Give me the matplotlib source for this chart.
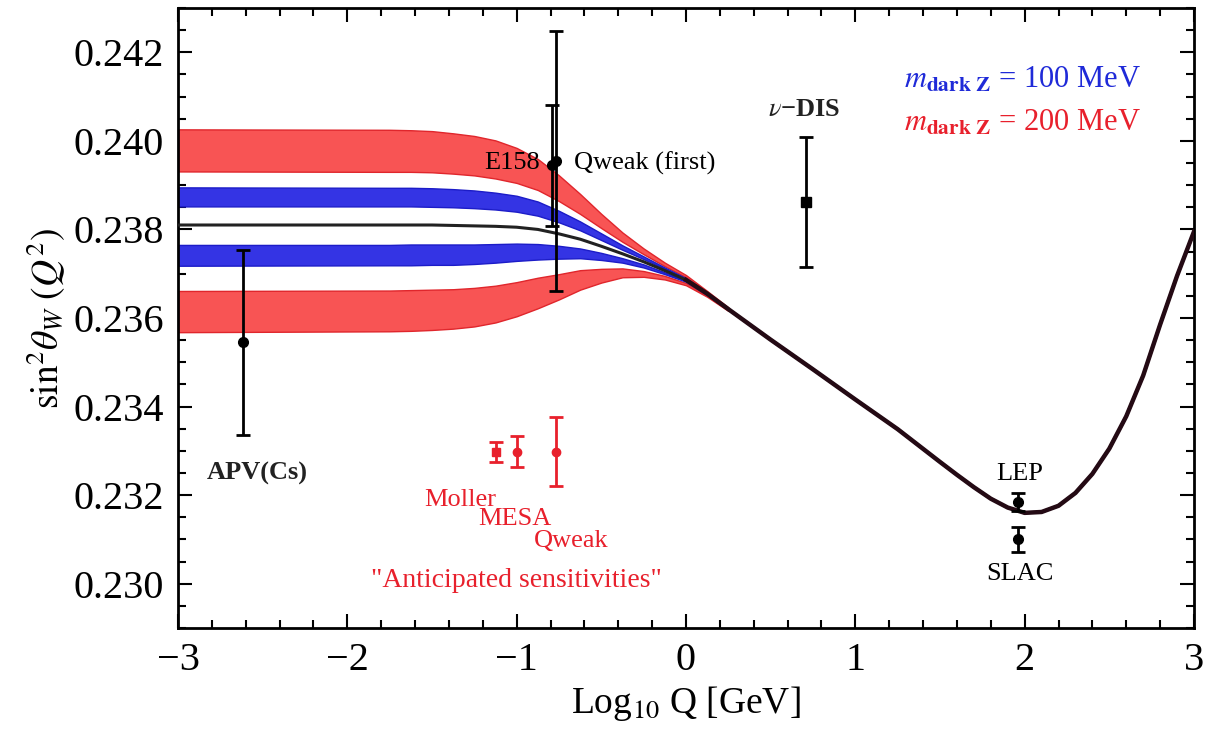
import numpy as np
import matplotlib
matplotlib.use("Agg")
import matplotlib.pyplot as plt
from matplotlib.ticker import MultipleLocator, FormatStrFormatter

plt.rcParams['font.family'] = ['Liberation Serif', 'DejaVu Serif']
plt.rcParams['mathtext.fontset'] = 'stix'

# band x grid (log10 Q) and band edges
xb = [-3.0, -1.75, -1.625, -1.5, -1.375, -1.25, -1.125, -1.0, -0.875, -0.75, -0.625, -0.5, -0.375, -0.25, -0.125, 0.0, 0.125, 0.25]
red_up_hi = [0.24026, 0.24025, 0.24024, 0.24022, 0.24017, 0.24011, 0.24001, 0.23984, 0.23959, 0.23922, 0.23880, 0.23835, 0.23793, 0.23757, 0.23725, 0.23697, 0.23661, 0.23624]
red_up_lo = [0.23931, 0.23930, 0.23930, 0.23929, 0.23926, 0.23922, 0.23915, 0.23905, 0.23889, 0.23864, 0.23835, 0.23803, 0.23772, 0.23744, 0.23717, 0.23692, 0.23658, 0.23622]
blue_up_hi = [0.23895, 0.23894, 0.23894, 0.23893, 0.23891, 0.23888, 0.23883, 0.23876, 0.23863, 0.23842, 0.23818, 0.23791, 0.23764, 0.23739, 0.23714, 0.23690, 0.23657, 0.23621]
blue_up_lo = [0.23852, 0.23852, 0.23852, 0.23851, 0.23850, 0.23848, 0.23845, 0.23840, 0.23831, 0.23816, 0.23798, 0.23776, 0.23754, 0.23733, 0.23711, 0.23688, 0.23656, 0.23621]
blue_lo_hi = [0.23765, 0.23765, 0.23766, 0.23766, 0.23766, 0.23766, 0.23767, 0.23768, 0.23767, 0.23763, 0.23757, 0.23747, 0.23735, 0.23721, 0.23703, 0.23684, 0.23654, 0.23619]
blue_lo_lo = [0.23718, 0.23719, 0.23719, 0.23720, 0.23720, 0.23722, 0.23725, 0.23729, 0.23732, 0.23734, 0.23735, 0.23731, 0.23725, 0.23714, 0.23699, 0.23682, 0.23652, 0.23619]
red_lo_hi = [0.23661, 0.23662, 0.23663, 0.23664, 0.23665, 0.23668, 0.23673, 0.23681, 0.23691, 0.23699, 0.23708, 0.23711, 0.23712, 0.23706, 0.23695, 0.23679, 0.23651, 0.23618]
red_lo_lo = [0.23568, 0.23570, 0.23571, 0.23573, 0.23576, 0.23581, 0.23590, 0.23604, 0.23622, 0.23642, 0.23664, 0.23680, 0.23692, 0.23693, 0.23687, 0.23674, 0.23648, 0.23616]

# SM running curve
cx = [-3.0, -1.75, -1.625, -1.5, -1.375, -1.25, -1.125, -1.0, -0.875, -0.75, -0.625, -0.5, -0.375, -0.25, -0.125, 0.0, 0.125, 0.25,
      0.5, 0.75, 1.0, 1.25, 1.5, 1.6, 1.7, 1.8, 1.9, 2.0, 2.1, 2.2, 2.3, 2.4, 2.5, 2.6, 2.7, 2.8, 2.9, 3.0]
cy = [0.23810, 0.23810, 0.23810, 0.23810, 0.23809, 0.23808, 0.23807, 0.23805, 0.23800, 0.23790, 0.23778, 0.23762, 0.23745, 0.23727, 0.23707, 0.23686, 0.23655, 0.23620,
      0.23551, 0.23484, 0.23416, 0.23349, 0.23275, 0.23246, 0.23218, 0.23192, 0.23172, 0.23160, 0.23162, 0.23176, 0.23205, 0.23248, 0.23305, 0.23378, 0.23470, 0.23585, 0.23695, 0.23795]

# measurements
meas_names = ["APV(Cs)", "E158", "Qweak (first)", "nu-DIS", "LEP", "SLAC"]
meas_x = [-2.615, -0.793, -0.768, 0.707, 1.96, 1.96]
meas_y = [0.23545, 0.23945, 0.23955, 0.23862, 0.23184, 0.23100]
meas_err = [0.00209, 0.00137, 0.00294, 0.00146, 0.00020, 0.00028]

# anticipated sensitivities
fut_names = ["Moller", "MESA", "Qweak"]
fut_x = [-1.122, -1.0, -0.768]
fut_y = [0.23298, 0.23298, 0.23298]
fut_err = [0.00023, 0.00035, 0.00078]

red_fill = '#f85454'
red_edge = '#e0262c'
blue_fill = '#3434e4'
blue_edge = '#1c1cc8'

fig = plt.figure(figsize=(12.07, 7.34), dpi=100)
ax = fig.add_axes([0.1475, 0.1444, 0.8417, 0.8447])

for lo, hi, fc, ec in [(red_up_lo, red_up_hi, red_fill, red_edge), (red_lo_lo, red_lo_hi, red_fill, red_edge),
                       (blue_up_lo, blue_up_hi, blue_fill, blue_edge), (blue_lo_lo, blue_lo_hi, blue_fill, blue_edge)]:
    ax.fill_between(xb, lo, hi, facecolor=fc, edgecolor=ec, lw=1.0, zorder=2)

cx = np.array(cx)
cy = np.array(cy)
ax.plot(cx, cy, color='#222222', lw=2.2, zorder=3, solid_joinstyle='round')
right = cx >= 0.0
ax.plot(cx[right], cy[right], color='#240a14', lw=3.2, zorder=3, solid_joinstyle='round')

ebkw = dict(capsize=5, capthick=2, elinewidth=2, zorder=4)
for i in range(len(meas_x)):
    mk = 's' if meas_names[i] == "nu-DIS" else 'o'
    ax.errorbar(meas_x[i], meas_y[i], yerr=meas_err[i], fmt=mk, color='black', ms=7, **ebkw)
for i in range(len(fut_x)):
    mk = 's' if fut_names[i] == "Moller" else 'o'
    ax.errorbar(fut_x[i], fut_y[i], yerr=fut_err[i], fmt=mk, color='#e8202c', ms=6, **ebkw)

# labels
ax.text(-0.86, 0.2395, "E158", fontsize=19, ha='right', va='center')
ax.text(-0.66, 0.2395, "Qweak (first)", fontsize=19, ha='left', va='center')
ax.text(0.70, 0.2407, r"$\nu$" + "\u2212DIS", fontsize=19, ha='center', va='center', fontweight='bold', color='#222222')
ax.text(-2.53, 0.2325, "APV(Cs)", fontsize=19, ha='center', va='center', fontweight='bold', color='#222222')
ax.text(1.97, 0.23248, "LEP", fontsize=19, ha='center', va='center')
ax.text(1.97, 0.23023, "SLAC", fontsize=19, ha='center', va='center')

rc = '#e8202c'
ax.text(-1.12, 0.2319, "Moller", fontsize=19, ha='right', va='center', color=rc)
ax.text(-1.01, 0.23147, "MESA", fontsize=19, ha='center', va='center', color=rc)
ax.text(-0.68, 0.23096, "Qweak", fontsize=19, ha='center', va='center', color=rc)
ax.text(-1.0, 0.23007, "\"Anticipated sensitivities\"", fontsize=20, ha='center', va='center', color=rc)

ax.text(1.29, 0.24137, r"$m_{\mathbf{dark\ Z}}$ = 100 MeV", fontsize=22, ha='left', va='center', color='#1f2ad8')
ax.text(1.29, 0.24039, r"$m_{\mathbf{dark\ Z}}$ = 200 MeV", fontsize=22, ha='left', va='center', color=rc)

ax.set_xlim(-3, 3)
ax.set_ylim(0.229, 0.243)
ax.xaxis.set_major_locator(MultipleLocator(1))
ax.xaxis.set_minor_locator(MultipleLocator(0.2))
ax.yaxis.set_major_locator(MultipleLocator(0.002))
ax.yaxis.set_minor_locator(MultipleLocator(0.0005))
ax.yaxis.set_major_formatter(FormatStrFormatter('%.3f'))
ax.tick_params(which='both', direction='in', top=True, right=True, width=1.5)
ax.tick_params(which='major', length=10, labelsize=29, pad=10)
ax.tick_params(which='minor', length=6)
for s in ax.spines.values():
    s.set_linewidth(2)

ax.set_xlabel(r"Log$_{10}$ Q [GeV]", fontsize=27)
ax.set_ylabel(r"$\sin^2\!\theta_W\ (Q^2)$", fontsize=27)

fig.savefig("out.png", dpi=100)
